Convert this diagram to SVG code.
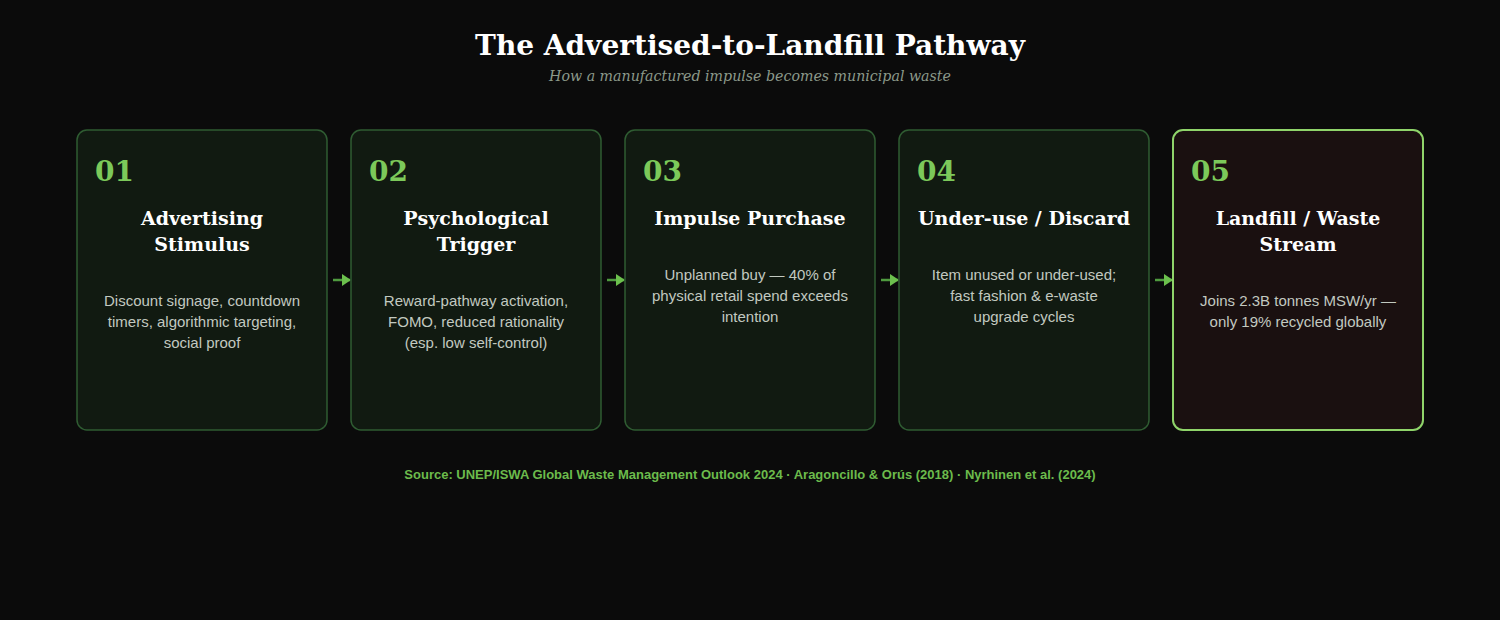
<svg xmlns="http://www.w3.org/2000/svg" width="1500" height="620" viewBox="0 0 1500 620">
<defs>
<style>
.bg{fill:#0b0b0b}
.card{fill:#111a11;stroke:#2f5c32;stroke-width:1.5}
.card.last{fill:#1a1010;stroke:#8fd46a;stroke-width:2}
.num{font-family:"DejaVu Serif","Liberation Serif",serif;font-weight:bold;font-size:28px;fill:#7cc95a}
.ttl{font-family:"DejaVu Serif","Liberation Serif",serif;font-weight:bold;font-size:19px;fill:#ffffff;text-anchor:middle}
.body{font-family:"Liberation Sans",Arial,sans-serif;font-size:15px;fill:#c2c9c0;text-anchor:middle}
.conn{stroke:#4f9a3f;stroke-width:2.5;fill:none}
</style>
<marker id="ah" markerWidth="9" markerHeight="12" refX="8" refY="6" orient="auto" markerUnits="userSpaceOnUse">
<path d="M0,0 L9,6 L0,12 Z" fill="#6cc04d"/>
</marker>
</defs>
<rect class="bg" x="0" y="0" width="1500" height="620"/>
<text x="750" y="55" text-anchor="middle" font-family="DejaVu Serif,Liberation Serif,serif" font-weight="bold" font-size="28" fill="#ffffff">The Advertised-to-Landfill Pathway</text>
<text x="750" y="81" text-anchor="middle" font-family="DejaVu Serif,Liberation Serif,serif" font-style="italic" font-size="14.2" fill="#8c998a">How a manufactured impulse becomes municipal waste</text>

<g id="connectors">
<line class="conn" x1="333" y1="280" x2="350" y2="280" marker-end="url(#ah)"/>
<line class="conn" x1="607" y1="280" x2="624" y2="280" marker-end="url(#ah)"/>
<line class="conn" x1="881" y1="280" x2="898" y2="280" marker-end="url(#ah)"/>
<line class="conn" x1="1155" y1="280" x2="1172" y2="280" marker-end="url(#ah)"/>
</g>

<g id="step1">
<rect class="card" x="77" y="130" width="250" height="300" rx="10"/>
<text class="num" x="95" y="181">01</text>
<text class="ttl" x="202" y="225">Advertising</text>
<text class="ttl" x="202" y="251">Stimulus</text>
<text class="body" x="202" y="306">Discount signage, countdown</text>
<text class="body" x="202" y="327">timers, algorithmic targeting,</text>
<text class="body" x="202" y="348">social proof</text>
</g>
<g id="step2">
<rect class="card" x="351" y="130" width="250" height="300" rx="10"/>
<text class="num" x="369" y="181">02</text>
<text class="ttl" x="476" y="225">Psychological</text>
<text class="ttl" x="476" y="251">Trigger</text>
<text class="body" x="476" y="306">Reward-pathway activation,</text>
<text class="body" x="476" y="327">FOMO, reduced rationality</text>
<text class="body" x="476" y="348">(esp. low self-control)</text>
</g>
<g id="step3">
<rect class="card" x="625" y="130" width="250" height="300" rx="10"/>
<text class="num" x="643" y="181">03</text>
<text class="ttl" x="750" y="225">Impulse Purchase</text>
<text class="body" x="750" y="280">Unplanned buy — 40% of</text>
<text class="body" x="750" y="301">physical retail spend exceeds</text>
<text class="body" x="750" y="322">intention</text>
</g>
<g id="step4">
<rect class="card" x="899" y="130" width="250" height="300" rx="10"/>
<text class="num" x="917" y="181">04</text>
<text class="ttl" x="1024" y="225">Under-use / Discard</text>
<text class="body" x="1024" y="280">Item unused or under-used;</text>
<text class="body" x="1024" y="301">fast fashion &amp; e-waste</text>
<text class="body" x="1024" y="322">upgrade cycles</text>
</g>
<g id="step5">
<rect class="card last" x="1173" y="130" width="250" height="300" rx="10"/>
<text class="num" x="1191" y="181">05</text>
<text class="ttl" x="1298" y="225">Landfill / Waste</text>
<text class="ttl" x="1298" y="251">Stream</text>
<text class="body" x="1298" y="306">Joins 2.3B tonnes MSW/yr —</text>
<text class="body" x="1298" y="327">only 19% recycled globally</text>
</g>

<text x="750" y="479" text-anchor="middle" font-family="Liberation Sans,Arial,sans-serif" font-weight="bold" font-size="13" fill="#6cbb4c">Source: UNEP/ISWA Global Waste Management Outlook 2024 · Aragoncillo &amp; Orús (2018) · Nyrhinen et al. (2024)</text>
</svg>
